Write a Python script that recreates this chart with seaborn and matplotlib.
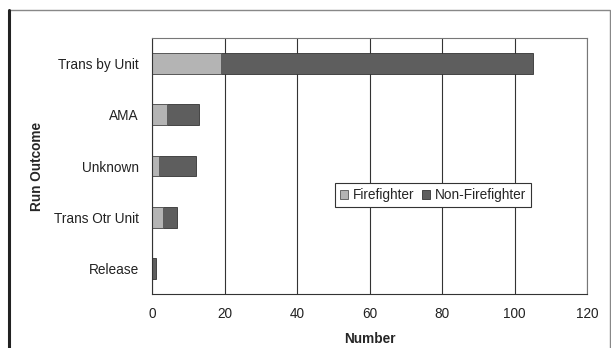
import matplotlib
matplotlib.use("Agg")
import matplotlib.pyplot as plt
from matplotlib.patches import Rectangle, Patch
import seaborn as sns
import pandas as pd

outcomes = ["Trans by Unit", "AMA", "Unknown", "Trans Otr Unit", "Release"]
firefighter = [19, 4, 2, 3, 0]
non_firefighter = [86, 9, 10, 4, 1]
x_ticks = [0, 20, 40, 60, 80, 100, 120]

ff_color = "#b4b4b4"
nf_color = "#5e5e5e"

df = pd.DataFrame({"Outcome": outcomes, "Firefighter": firefighter,
                   "NonFirefighter": non_firefighter})
df["Total"] = df["Firefighter"] + df["NonFirefighter"]

sns.set_style("white")
plt.rcParams["font.family"] = ["Liberation Sans", "DejaVu Sans"]

fs = 9.8
fig = plt.figure(figsize=(6.11, 3.48), dpi=100)
ax = fig.add_axes([152 / 611, 1 - 294 / 348, (587 - 152) / 611, (294 - 38) / 348])

# stacked bars: full total in dark, firefighter share overlaid in light
sns.barplot(data=df, y="Outcome", x="Total", orient="h", color=nf_color,
            width=0.41, edgecolor="#333333", linewidth=0.6, saturation=1, ax=ax)
sns.barplot(data=df, y="Outcome", x="Firefighter", orient="h", color=ff_color,
            width=0.41, edgecolor="#555555", linewidth=0.6, saturation=1, ax=ax)

ax.set_xlim(0, 120)
ax.set_ylim(4.5, -0.5)
ax.set_xticks(x_ticks)
ax.set_xticklabels([str(t) for t in x_ticks], fontsize=fs, color="#222222")
ax.xaxis.grid(True, color="#333333", linewidth=0.8)
ax.yaxis.grid(False)
ax.set_axisbelow(True)

ax.set_yticks(range(len(outcomes)))
ax.set_yticklabels(outcomes, fontsize=fs, color="#222222")
ax.tick_params(axis="y", length=0, pad=9.5)
ax.set_yticks([i - 0.5 for i in range(len(outcomes) + 1)], minor=True)
ax.tick_params(axis="y", which="minor", length=4, direction="inout", width=0.8)
ax.tick_params(axis="x", length=5, direction="inout", width=0.8, pad=7)

for side in ["left", "bottom", "top", "right"]:
    ax.spines[side].set_visible(True)
    ax.spines[side].set_color("#333333")
    ax.spines[side].set_linewidth(0.8)
ax.spines["top"].set_color("#777777")
ax.spines["right"].set_color("#777777")

ax.set_xlabel("Number", fontsize=fs, fontweight="bold", labelpad=8)
ax.set_ylabel("Run Outcome", fontsize=fs, fontweight="bold")
ax.yaxis.set_label_coords((44 - 152) / 435, 0.5)

handles = [Patch(facecolor=ff_color, edgecolor="#555555", linewidth=0.6, label="Firefighter"),
           Patch(facecolor=nf_color, edgecolor="#333333", linewidth=0.6, label="Non-Firefighter")]
leg = ax.legend(handles=handles, loc="center", bbox_to_anchor=((433 - 152) / 435, (294 - 195) / 256),
                ncol=2, frameon=True, fancybox=False, fontsize=fs, handlelength=0.6,
                handleheight=0.6, handletextpad=0.3, columnspacing=0.6, borderpad=0.4,
                framealpha=1)
leg.get_frame().set_edgecolor("#333333")
leg.get_frame().set_linewidth(0.8)

# outer chart border
fig.patches.append(Rectangle((9 / 611, -0.05), (610 - 9) / 611, 1.05 - 10 / 348,
                             transform=fig.transFigure, fill=False,
                             edgecolor="#888888", linewidth=1.0))
fig.add_artist(plt.Line2D([9 / 611, 9 / 611], [0, 1 - 10 / 348], transform=fig.transFigure,
                          color="#222222", linewidth=2.2))

fig.savefig("out.png", dpi=100)
